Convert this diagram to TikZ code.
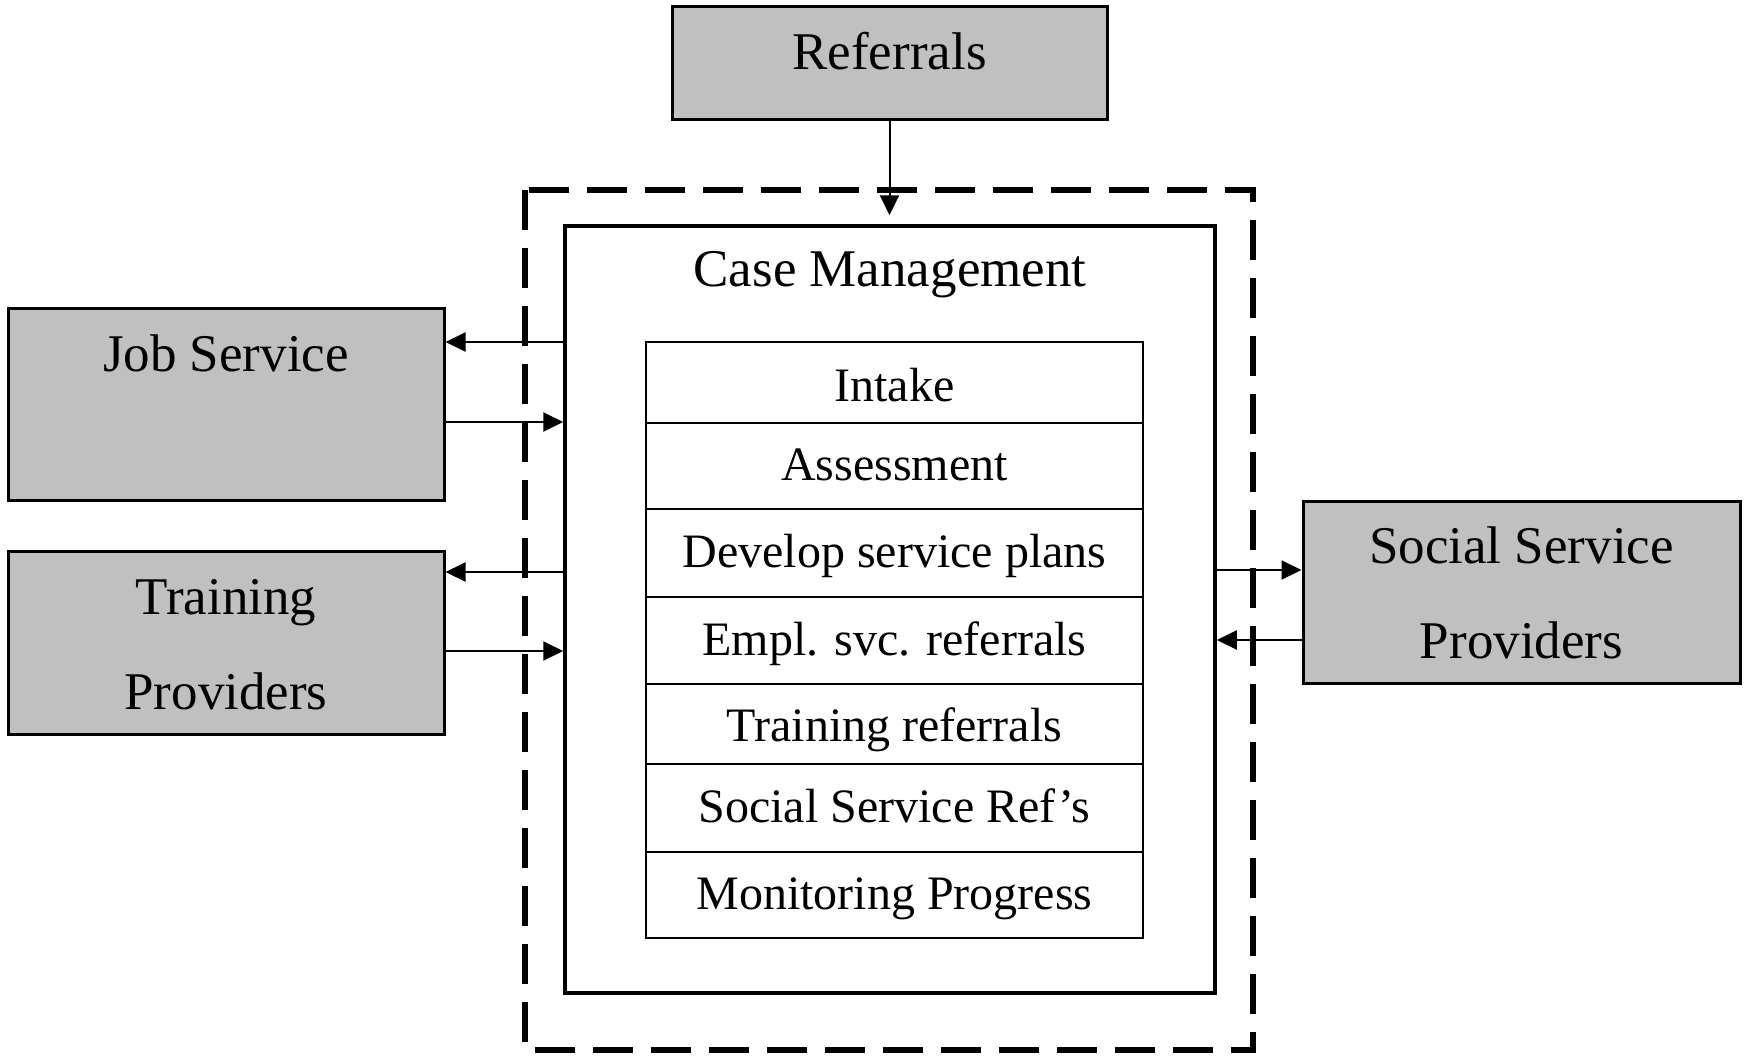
\documentclass[tikz,border=0pt]{standalone}
\usepackage{fontspec}
\setmainfont{Liberation Serif}
\usetikzlibrary{arrows.meta}
\definecolor{boxgray}{HTML}{C0C0C0}
\begin{document}
\begin{tikzpicture}[x=1pt,y=-1pt,
  graybox/.style={draw,line width=3pt,fill=boxgray,inner sep=0pt,anchor=center},
  bigtxt/.style={font=\fontsize{53}{60}\selectfont,anchor=base,inner sep=0pt},
  rowbox/.style={draw,line width=2.2pt,inner sep=0pt,minimum width=497pt,
    text height=36pt,text depth=8pt,font=\fontsize{48}{56}\selectfont},
  arr/.style={line width=2pt,-{Triangle[length=20pt,width=19pt]}}]
\useasboundingbox (0,0) rectangle (1744,1063);
% outer dashed frame
\draw[line width=5.5pt,dash pattern=on 40pt off 18pt] (525,190) rectangle (1253,1050);
% boxes
\node[graybox,minimum width=435pt,minimum height=113pt] (ref) at (889.5,62.5) {};
\node[bigtxt] (reft) at (889.5,69) {Referrals};
\node[draw,line width=3.5pt,minimum width=650pt,minimum height=767pt,inner sep=0pt] (cm) at (890,609.5) {};
\node[bigtxt] (cmt) at (890,286) {Case Management};
\node[graybox,minimum width=436pt,minimum height=192pt] (js) at (226,404) {};
\node[bigtxt] (jst) at (226,371) {Job Service};
\node[graybox,minimum width=436pt,minimum height=183pt] (tp) at (226,642.5) {};
\node[bigtxt] (tpt1) at (226,614) {Training};
\node[bigtxt] (tpt2) at (226,709) {Providers};
\node[graybox,minimum width=437pt,minimum height=182pt] (ss) at (1521.5,592) {};
\node[bigtxt] (sst1) at (1521.5,563) {Social Service};
\node[bigtxt] (sst2) at (1521.5,658) {Providers};
% list rows
\node[rowbox,minimum height=81pt,text height=45pt] (r1) at (894.5,382.5) {Intake};
\node[rowbox,minimum height=86pt] (r2) at (894.5,466) {Assessment};
\node[rowbox,minimum height=88pt] (r3) at (894.5,553) {Develop service plans};
\node[rowbox,minimum height=87pt,text height=38pt] (r4) at (894.5,640.5) {Empl. svc. referrals};
\node[rowbox,minimum height=80pt,text height=42pt] (r5) at (894.5,724) {Training referrals};
\node[rowbox,minimum height=88pt] (r6) at (894.5,808) {Social Service Ref’s};
\node[rowbox,minimum height=86pt] (r7) at (894.5,895) {Monitoring Progress};
% arrow levels
\coordinate (y1) at (0,342);
\coordinate (y2) at (0,422);
\coordinate (y3) at (0,572);
\coordinate (y4) at (0,651);
\coordinate (y5) at (0,570);
\coordinate (y6) at (0,640);
\coordinate (reftip) at ([yshift=9pt]cm.north);
% connectors
\draw[arr] (ref.south) -- (ref.south |- reftip);
\draw[arr] (cm.west |- y1) -- (js.east |- y1);
\draw[arr] (js.east |- y2) -- (cm.west |- y2);
\draw[arr] (cm.west |- y3) -- (tp.east |- y3);
\draw[arr] (tp.east |- y4) -- (cm.west |- y4);
\draw[arr] (cm.east |- y5) -- (ss.west |- y5);
\draw[arr] (ss.west |- y6) -- (cm.east |- y6);
\end{tikzpicture}
\end{document}
